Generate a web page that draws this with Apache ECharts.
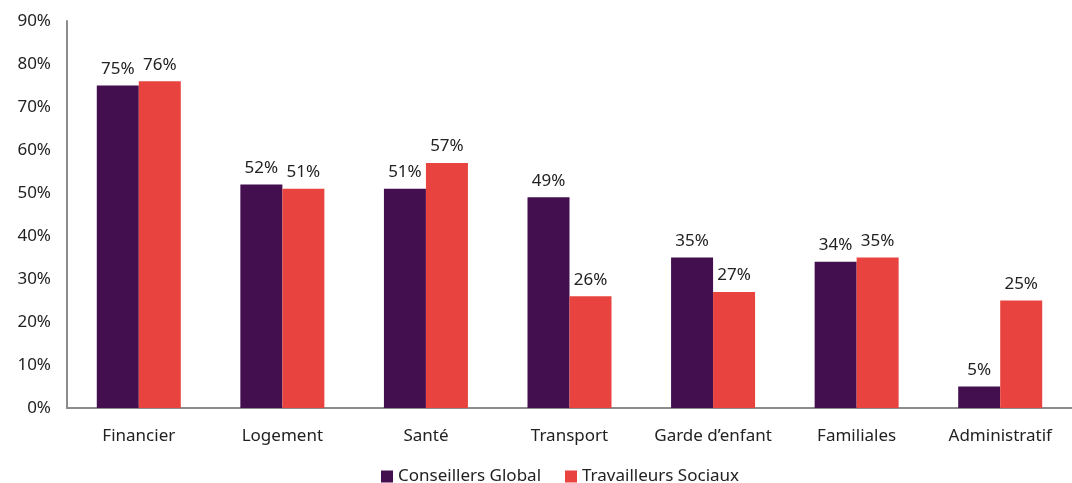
<!DOCTYPE html>
<html>
<head>
<meta charset="utf-8">
<script src="https://cdn.jsdelivr.net/npm/echarts@6/dist/echarts.min.js"></script>
<style>
    html, body { margin: 0; padding: 0; background: #fff; }
    #chart { width: 1072px; height: 483px; }
</style>
</head>
<body>
<div id="chart"></div>
<script>
    var categories = ['Financier', 'Logement', 'Santé', 'Transport', 'Garde d\u2019enfant', 'Familiales', 'Administratif'];
    var conseillers = [75, 52, 51, 49, 35, 34, 5];
    var travailleurs = [76, 51, 57, 26, 27, 35, 25];
    var seriesNames = ['Conseillers Global', 'Travailleurs Sociaux'];

    var font = '"Noto Sans", "Open Sans", sans-serif';
    var chart = echarts.init(document.getElementById('chart'));

    var option = {
        animation: false,
        textStyle: { fontFamily: font },
        grid: { left: 67, right: 0, top: 21, bottom: 75 },
        legend: {
            top: 463,
            left: 376,
            itemWidth: 12,
            itemHeight: 12,
            itemGap: 24,
            icon: 'rect',
            textStyle: { fontSize: 17, color: '#222', fontFamily: font },
            data: seriesNames
        },
        xAxis: {
            type: 'category',
            data: categories,
            axisLine: { lineStyle: { color: '#8c8c8c', width: 2 } },
            axisTick: { show: false },
            axisLabel: { interval: 0, color: '#222', fontSize: 17, margin: 20, fontFamily: font }
        },
        yAxis: {
            type: 'value',
            min: 0,
            max: 90,
            interval: 10,
            axisLine: { show: true, lineStyle: { color: '#8c8c8c', width: 2 } },
            axisTick: { show: false },
            splitLine: { show: false },
            axisLabel: { color: '#222', fontSize: 17, margin: 16, formatter: '{value}%', fontFamily: font }
        },
        series: [
            {
                name: seriesNames[0],
                type: 'bar',
                data: conseillers,
                barWidth: 42,
                barGap: '0%',
                itemStyle: { color: '#430F4F' },
                label: { show: true, position: 'top', distance: 8, formatter: '{c}%', color: '#222', fontSize: 17, fontFamily: font }
            },
            {
                name: seriesNames[1],
                type: 'bar',
                data: travailleurs,
                barWidth: 42,
                barGap: '0%',
                itemStyle: { color: '#E8433E' },
                label: { show: true, position: 'top', distance: 8, formatter: '{c}%', color: '#222', fontSize: 17, fontFamily: font }
            }
        ]
    };
    chart.setOption(option);
    window.addEventListener('resize', function () { chart.resize(); });
</script>
</body>
</html>
